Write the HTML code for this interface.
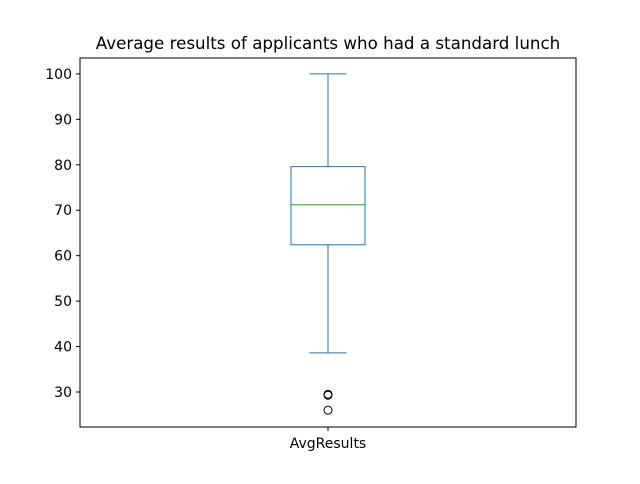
<!DOCTYPE html>
<html><head><meta charset="utf-8"><style>
body{margin:0;background:#fff;font-family:"DejaVu Sans","Liberation Sans",sans-serif}
</style></head><body>
<svg id="chart" width="640" height="480" xmlns="http://www.w3.org/2000/svg" font-family="DejaVu Sans, Liberation Sans, sans-serif">
<rect width="640" height="480" fill="#fff"/>
<text x="328" y="49" text-anchor="middle" font-size="16.7">Average results of applicants who had a standard lunch</text>
<g id="plot"></g>
<rect x="80" y="58" width="496" height="369" fill="none" stroke="#000" stroke-width="1"/>
</svg>
<script>
const categories = ["AvgResults"];
const stats = [{whislo:38.6, q1:62.4, med:71.2, q3:79.6, whishi:100}];
const outliers = [[29.3, 29.5, 26.0]];
const yTicks = [30,40,50,60,70,80,90,100];
const yMin = 22.3, yMax = 103.5;
const pTop=58, pBottom=427, pLeft=80, pRight=576;
function y(v){return pBottom-(v-yMin)/(yMax-yMin)*(pBottom-pTop);}
function x(i){return pLeft+(i+0.5)*(pRight-pLeft)/categories.length;}
const ns="http://www.w3.org/2000/svg", g=document.getElementById('plot');
function mk(t,a){const e=document.createElementNS(ns,t);for(const k in a)e.setAttribute(k,a[k]);g.appendChild(e);return e;}
yTicks.forEach(t=>{
  const l=mk('line',{x1:pLeft-4,x2:pLeft,y1:y(t),y2:y(t),stroke:'#000'});
  
  
  const tx=mk('text',{x:pLeft-8,y:y(t)+5,'text-anchor':'end','font-size':14});
  tx.textContent=t;
  
  
});
categories.forEach((c,i)=>{
  const cx=x(i), s=stats[i], hw=37, cw=18.5;
  const tk=mk('line',{x1:cx,x2:cx,y1:pBottom,y2:pBottom+4,stroke:'#000'});
  
  
  const lb=mk('text',{x:cx,y:pBottom+21,'text-anchor':'middle','font-size':14});
  lb.textContent=c;
  
  
  const c1='#1f77b4';
  const w1=mk('line',{x1:cx,x2:cx,y1:y(s.q3),y2:y(s.whishi),stroke:c1});
  
  
  const w2=mk('line',{x1:cx,x2:cx,y1:y(s.q1),y2:y(s.whislo),stroke:c1});
  
  
  const cp1=mk('line',{x1:cx-cw,x2:cx+cw,y1:y(s.whishi),y2:y(s.whishi),stroke:c1});
  
  
  const cp2=mk('line',{x1:cx-cw,x2:cx+cw,y1:y(s.whislo),y2:y(s.whislo),stroke:c1});
  
  
  const bx=mk('rect',{x:cx-hw,y:y(s.q3),width:2*hw,height:y(s.q1)-y(s.q3),fill:'none',stroke:c1});
  
  
  const md=mk('line',{x1:cx-hw,x2:cx+hw,y1:y(s.med),y2:y(s.med),stroke:'#2ca02c'});
  
  
  outliers[i].forEach(o=>{
    const p=mk('circle',{cx:cx,cy:y(o),r:4,fill:'none',stroke:'#000'});
    
    
  });
});
</script>
</body></html>
